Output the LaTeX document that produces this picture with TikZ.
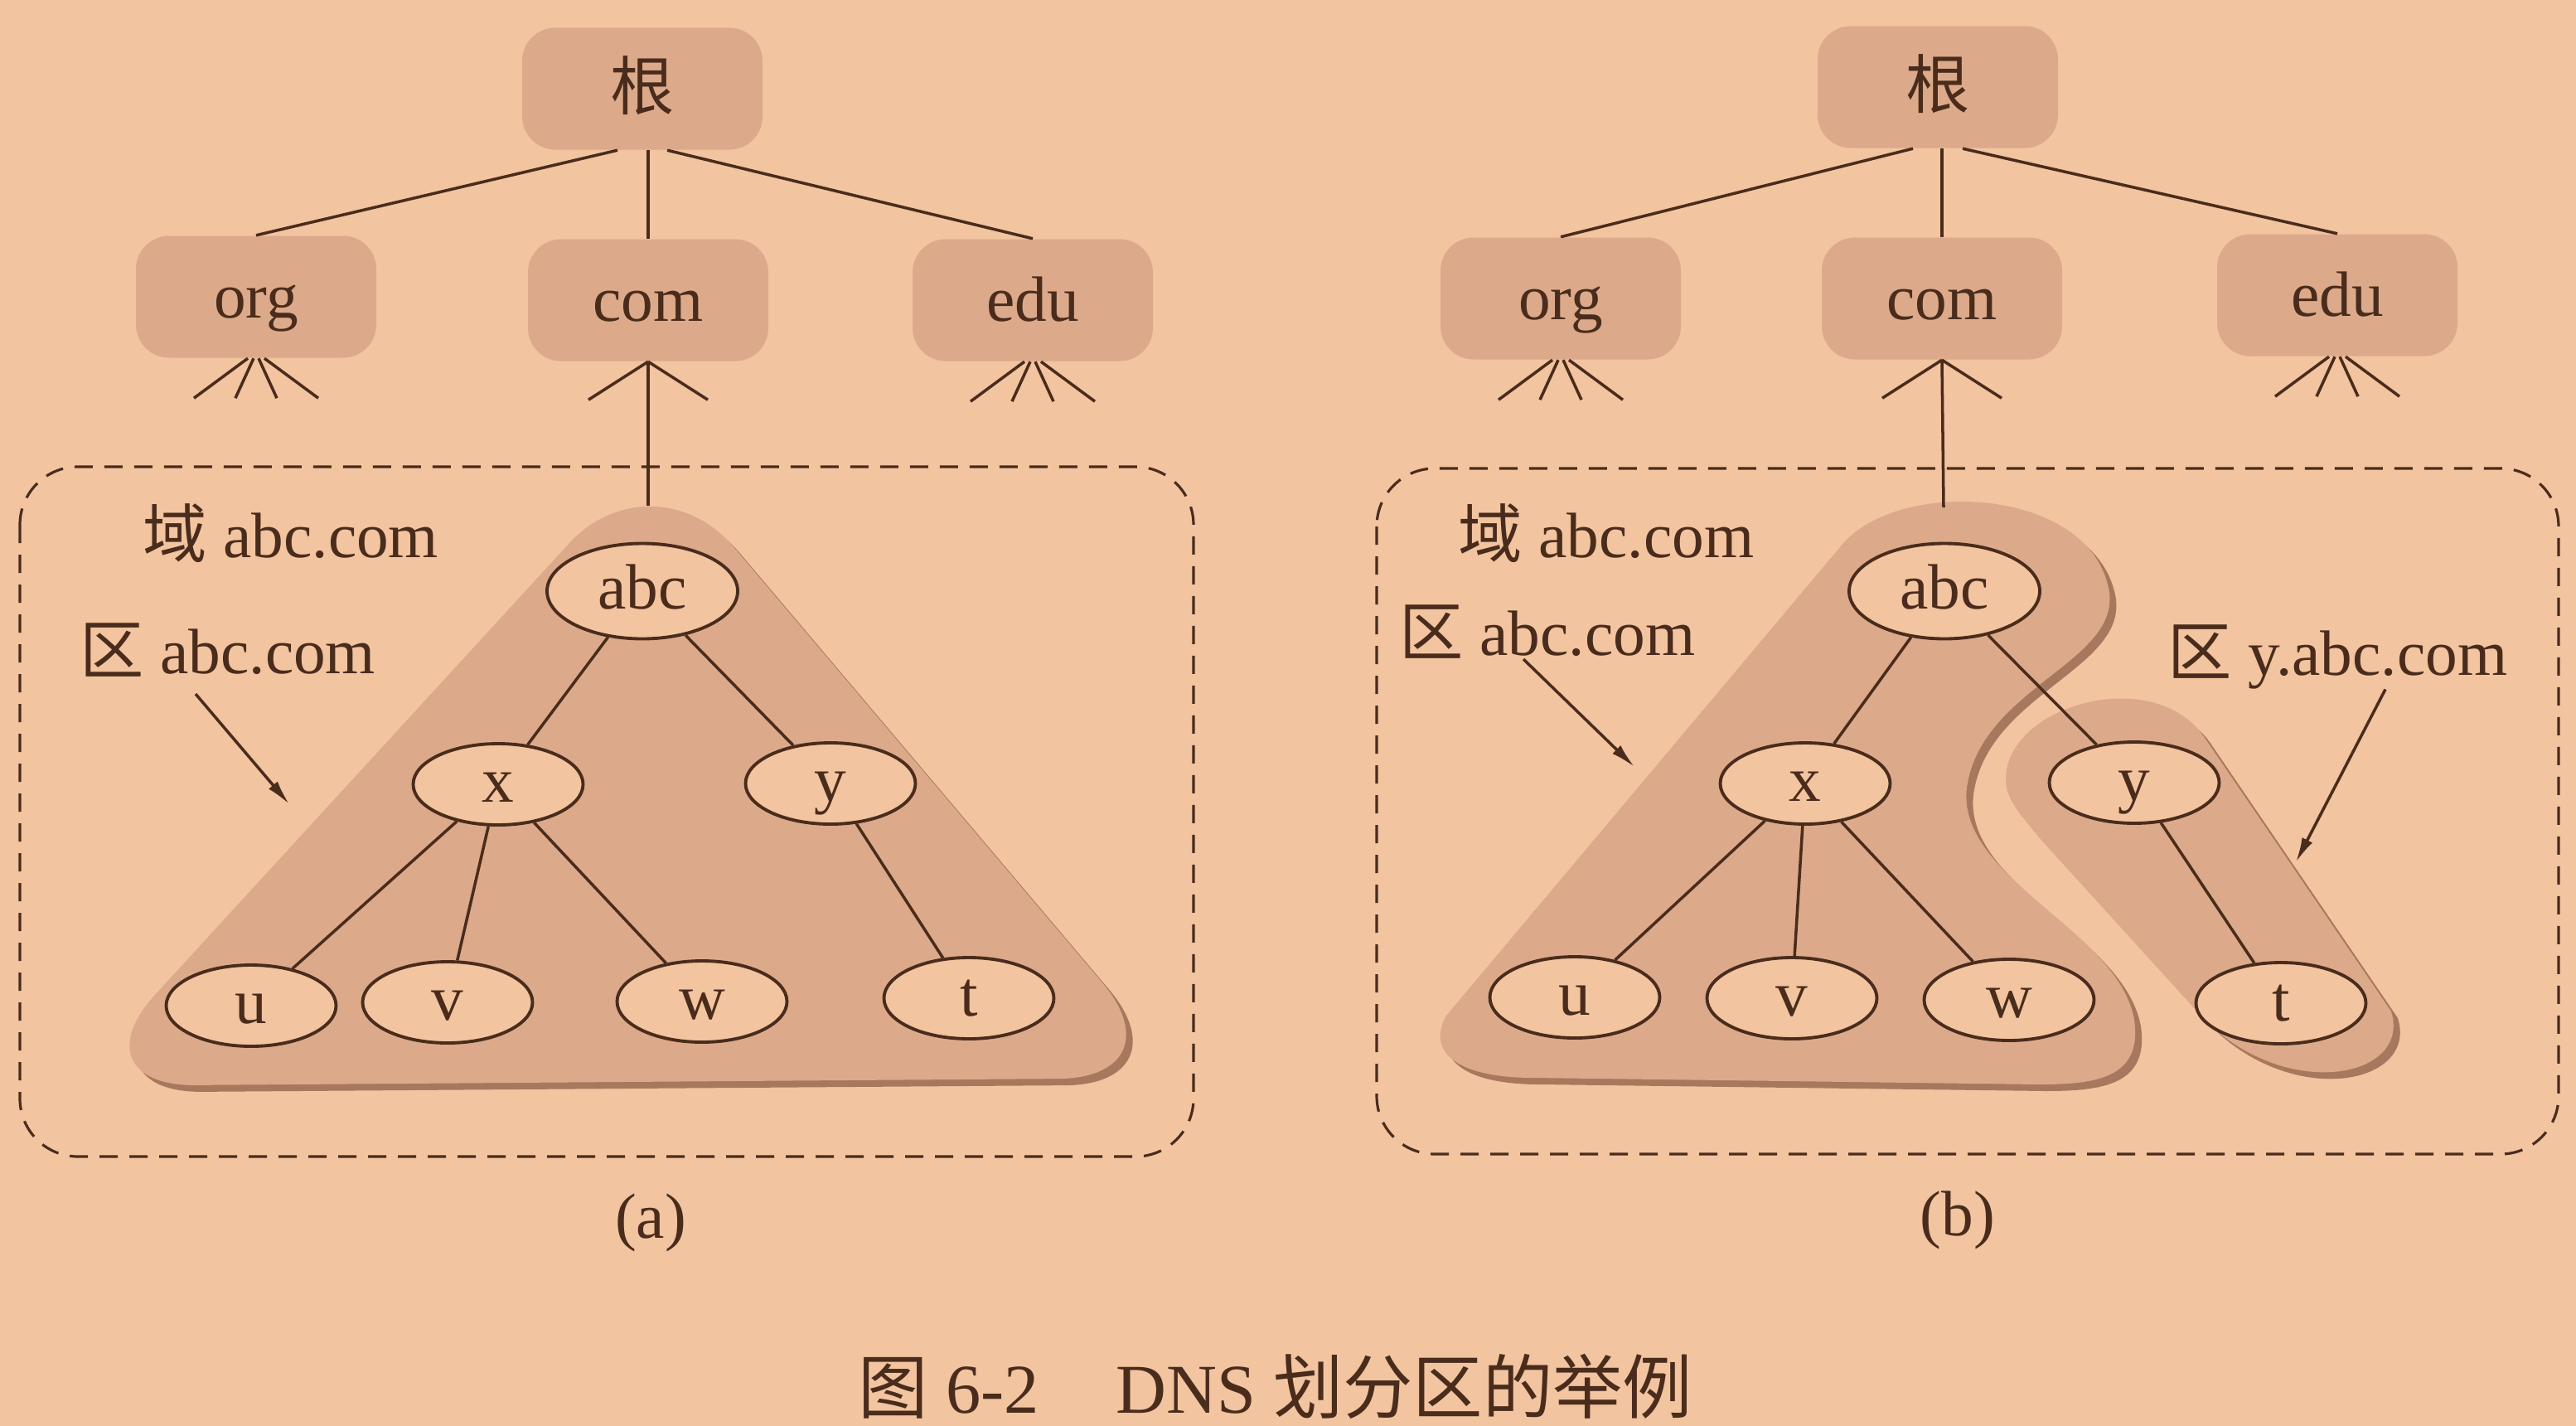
\documentclass[tikz,border=0pt]{standalone}
\usepackage{fontspec}
\setmainfont{Liberation Serif}
\newfontfamily\cjk{Noto Sans CJK SC}
\usepackage{tikz}
\usetikzlibrary{shapes.geometric, arrows.meta}
\definecolor{paper}{RGB}{242,196,160}
\definecolor{shade}{RGB}{220,170,138}
\definecolor{rim}{RGB}{168,120,94}
\definecolor{ink}{RGB}{74,44,28}

\begin{document}
\begin{tikzpicture}[
    every node/.style={text=ink, font=\fontsize{22}{26}\selectfont},
    dom/.style={rectangle, fill=shade, rounded corners=4mm, minimum width=2.9cm, minimum height=1.47cm, text height=0.55cm, text depth=0.05cm},
    host/.style={ellipse, draw=ink, line width=1.1pt, fill=paper, minimum width=2.05cm, minimum height=0.98cm, inner sep=0pt, text height=0.5cm, text depth=0.08cm},
    link/.style={draw=ink, line width=1pt},
    zone/.style={fill=shade},
    rimzone/.style={fill=rim, xshift=0.8mm, yshift=-0.8mm},
    frame/.style={draw=ink, line width=0.9pt, dash pattern=on 2.2mm off 1.4mm, rounded corners=7mm},
    tag/.style={anchor=west, inner sep=0pt},
    pointer/.style={-{Latex[length=3mm, width=1.4mm]}, draw=ink, line width=1pt}
]
    \useasboundingbox (0,0) rectangle (31.08,-17.2);
    \fill[paper] (0,0) rectangle (31.08,-17.2);

    % (a) top of the tree
    \node[dom] (rootA) at (7.75,-1.07) {{\cjk 根}};
    \node[dom] (orgA) at (3.09,-3.58) {org};
    \node[dom] (comA) at (7.82,-3.62) {com};
    \node[dom] (eduA) at (12.46,-3.62) {edu};

    \draw[link] ([xshift=-3mm]rootA.south) -- (orgA.north);
    \draw[link] (rootA.south -| comA.north) -- (comA.north);
    \draw[link] ([xshift=3mm]rootA.south) -- (eduA.north);

    \draw[link] ([xshift=-1mm]orgA.south) -- ++(-0.65,-0.48);
    \draw[link] ([xshift=-0.3mm]orgA.south) -- ++(-0.22,-0.48);
    \draw[link] ([xshift=0.3mm]orgA.south) -- ++(0.22,-0.48);
    \draw[link] ([xshift=1mm]orgA.south) -- ++(0.65,-0.48);
    \draw[link] (comA.south) -- ++(-0.72,-0.46);
    \draw[link] (comA.south) -- ++(0.72,-0.46);
    \draw[link] ([xshift=-1mm]eduA.south) -- ++(-0.65,-0.48);
    \draw[link] ([xshift=-0.3mm]eduA.south) -- ++(-0.22,-0.48);
    \draw[link] ([xshift=0.3mm]eduA.south) -- ++(0.22,-0.48);
    \draw[link] ([xshift=1mm]eduA.south) -- ++(0.65,-0.48);

    % (a) domain and zone
    \draw[frame] (0.24,-5.63) rectangle (14.40,-13.95);
    \fill[rimzone, rounded corners=15mm] (7.5,-13.05) -- (14.27,-13.0) -- (7.88,-5.45) -- (0.86,-13.10) -- cycle;
    \fill[zone, rounded corners=15mm] (7.5,-13.05) -- (14.27,-13.0) -- (7.88,-5.45) -- (0.86,-13.10) -- cycle;
    \coordinate (capA) at (7.82,-6.10);
    \draw[link] (comA.south) -- (capA);

    \node[host, minimum width=2.3cm, minimum height=1.15cm] (abcA) at (7.75,-7.13) {abc};
    \node[host] (xA) at (6.01,-9.46) {x};
    \node[host] (yA) at (10.02,-9.45) {y};
    \node[host] (uA) at (3.03,-12.13) {u};
    \node[host] (vA) at (5.40,-12.09) {v};
    \node[host] (wA) at (8.47,-12.08) {w};
    \node[host] (tA) at (11.69,-12.04) {t};

    \draw[link] (abcA) -- (xA);
    \draw[link] (abcA) -- (yA);
    \draw[link] (xA) -- (uA);
    \draw[link] (xA) -- (vA);
    \draw[link] (xA) -- (wA);
    \draw[link] (yA) -- (tA);

    \node[tag] (domLblA) at (1.72,-6.43) {{\cjk 域} abc.com};
    \node[tag] (zoneLblA) at (0.96,-7.84) {{\cjk 区} abc.com};
    \coordinate (hitA) at (3.49,-9.70);
    \draw[pointer] ([xshift=14mm,yshift=-2mm]zoneLblA.south west) -- (hitA);

    \node (capLblA) at (7.85,-14.75) {(a)};

    % (b) top of the tree
    \node[dom] (rootB) at (23.38,-1.05) {{\cjk 根}};
    \node[dom] (orgB) at (18.83,-3.60) {org};
    \node[dom] (comB) at (23.43,-3.60) {com};
    \node[dom] (eduB) at (28.20,-3.56) {edu};

    \draw[link] ([xshift=-3mm]rootB.south) -- (orgB.north);
    \draw[link] (rootB.south -| comB.north) -- (comB.north);
    \draw[link] ([xshift=3mm]rootB.south) -- (eduB.north);

    \draw[link] ([xshift=-1mm]orgB.south) -- ++(-0.65,-0.48);
    \draw[link] ([xshift=-0.3mm]orgB.south) -- ++(-0.22,-0.48);
    \draw[link] ([xshift=0.3mm]orgB.south) -- ++(0.22,-0.48);
    \draw[link] ([xshift=1mm]orgB.south) -- ++(0.65,-0.48);
    \draw[link] (comB.south) -- ++(-0.72,-0.46);
    \draw[link] (comB.south) -- ++(0.72,-0.46);
    \draw[link] ([xshift=-1mm]eduB.south) -- ++(-0.65,-0.48);
    \draw[link] ([xshift=-0.3mm]eduB.south) -- ++(-0.22,-0.48);
    \draw[link] ([xshift=0.3mm]eduB.south) -- ++(0.22,-0.48);
    \draw[link] ([xshift=1mm]eduB.south) -- ++(0.65,-0.48);

    % (b) domain and two zones
    \draw[frame] (16.61,-5.65) rectangle (30.87,-13.92);
    \fill[rimzone] (17.45,-12.25) -- (22.2,-6.6) .. controls (22.85,-5.75) and (25.25,-5.85) .. (25.45,-7.15)
        .. controls (25.55,-8.0) and (23.9,-8.3) .. (23.73,-9.5) .. controls (23.6,-10.6) and (25.55,-11.2) .. (25.75,-12.3)
        .. controls (25.85,-13.0) and (25.3,-13.08) .. (24.6,-13.08) -- (18.5,-13.0) .. controls (17.6,-13.0) and (17.2,-12.7) .. (17.45,-12.25) -- cycle;
    \fill[zone] (17.45,-12.25) -- (22.2,-6.6) .. controls (22.85,-5.75) and (25.25,-5.85) .. (25.45,-7.15)
        .. controls (25.55,-8.0) and (23.9,-8.3) .. (23.73,-9.5) .. controls (23.6,-10.6) and (25.55,-11.2) .. (25.75,-12.3)
        .. controls (25.85,-13.0) and (25.3,-13.08) .. (24.6,-13.08) -- (18.5,-13.0) .. controls (17.6,-13.0) and (17.2,-12.7) .. (17.45,-12.25) -- cycle;
    \fill[rimzone] (24.2,-9.4) .. controls (24.2,-8.5) and (26.0,-8.0) .. (26.6,-8.9) -- (28.85,-12.2)
        .. controls (29.1,-13.0) and (27.6,-13.3) .. (26.6,-12.3) -- (24.6,-10.1) .. controls (24.4,-9.85) and (24.2,-9.65) .. (24.2,-9.4) -- cycle;
    \fill[zone] (24.2,-9.4) .. controls (24.2,-8.5) and (26.0,-8.0) .. (26.6,-8.9) -- (28.85,-12.2)
        .. controls (29.1,-13.0) and (27.6,-13.3) .. (26.6,-12.3) -- (24.6,-10.1) .. controls (24.4,-9.85) and (24.2,-9.65) .. (24.2,-9.4) -- cycle;
    \coordinate (capB) at (23.45,-6.12);
    \draw[link] (comB.south) -- (capB);

    \node[host, minimum width=2.3cm, minimum height=1.15cm] (abcB) at (23.46,-7.13) {abc};
    \node[host] (xB) at (21.78,-9.45) {x};
    \node[host] (yB) at (25.75,-9.44) {y};
    \node[host] (uB) at (19.00,-12.03) {u};
    \node[host] (vB) at (21.62,-12.04) {v};
    \node[host] (wB) at (24.24,-12.06) {w};
    \node[host] (tB) at (27.52,-12.10) {t};

    \draw[link] (abcB) -- (xB);
    \draw[link] (abcB) -- (yB);
    \draw[link] (xB) -- (uB);
    \draw[link] (xB) -- (vB);
    \draw[link] (xB) -- (wB);
    \draw[link] (yB) -- (tB);

    \node[tag] (domLblB) at (17.59,-6.43) {{\cjk 域} abc.com};
    \node[tag] (zoneLblB) at (16.88,-7.62) {{\cjk 区} abc.com};
    \node[tag] (zoneLblY) at (26.15,-7.92) {{\cjk 区} y.abc.com};
    \coordinate (hitB) at (19.72,-9.25);
    \draw[pointer] ([xshift=15mm]zoneLblB.south west) -- (hitB);
    \coordinate (hitY) at (27.70,-10.40);
    \draw[pointer] ([xshift=26.3mm]zoneLblY.south west) -- (hitY);

    \node (capLblB) at (23.62,-14.72) {(b)};

    % Caption
    \node[font=\fontsize{24}{28}\selectfont] (title) at (15.39,-16.72) {{\cjk 图} 6-2\hspace{1.1em}DNS {\cjk 划分区的举例}};
\end{tikzpicture}
\end{document}
